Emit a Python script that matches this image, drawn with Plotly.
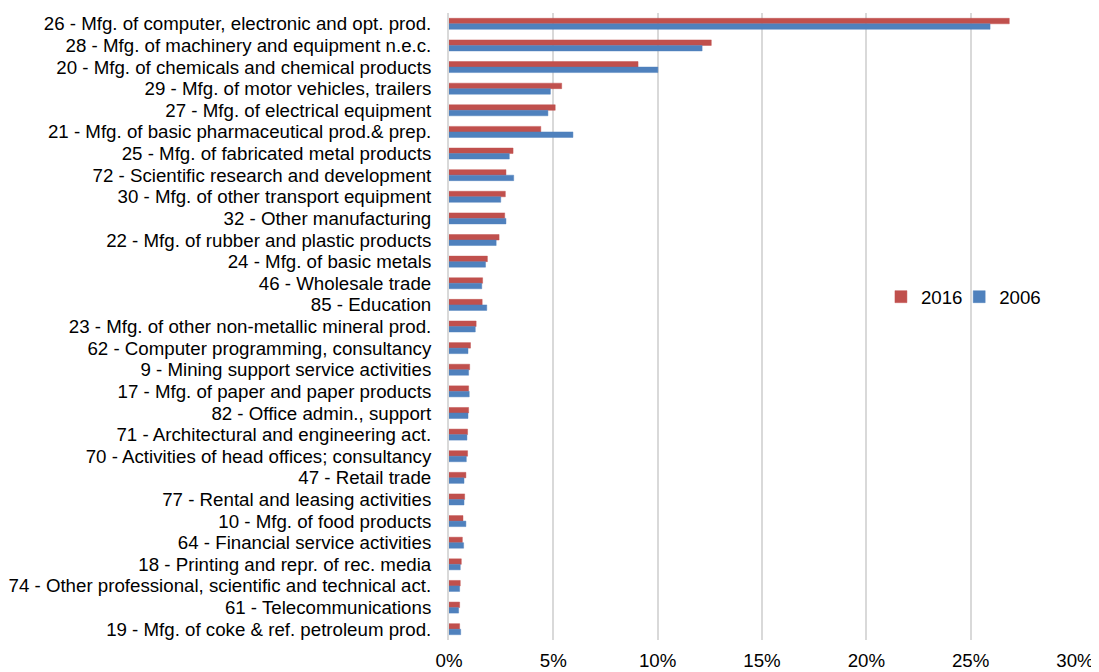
import plotly.graph_objects as go

categories = [
    "26 - Mfg. of computer, electronic and opt. prod.",
    "28 - Mfg. of machinery and equipment n.e.c.",
    "20 - Mfg. of chemicals and chemical products",
    "29 - Mfg. of motor vehicles, trailers",
    "27 - Mfg. of electrical equipment",
    "21 - Mfg. of basic pharmaceutical prod.& prep.",
    "25 - Mfg. of fabricated metal products",
    "72 - Scientific research and development",
    "30 - Mfg. of other transport equipment",
    "32 - Other manufacturing",
    "22 - Mfg. of rubber and plastic products",
    "24 - Mfg. of basic metals",
    "46 - Wholesale trade",
    "85 - Education",
    "23 - Mfg. of other non-metallic mineral prod.",
    "62 - Computer programming, consultancy",
    "9 - Mining support service activities",
    "17 - Mfg. of paper and paper products",
    "82 - Office admin., support",
    "71 - Architectural and engineering act.",
    "70 - Activities of head offices; consultancy",
    "47 - Retail trade",
    "77 - Rental and leasing activities",
    "10 - Mfg. of food products",
    "64 - Financial service activities",
    "18 - Printing and repr. of rec. media",
    "74 - Other professional, scientific and technical act.",
    "61 - Telecommunications",
    "19 - Mfg. of coke & ref. petroleum prod.",
]

values_2016 = [0.2685, 0.1257, 0.0906, 0.0540, 0.0509, 0.0440, 0.0307, 0.0273, 0.0270, 0.0267,
               0.0240, 0.0184, 0.0161, 0.0159, 0.0130, 0.0103, 0.0099, 0.0094, 0.0094, 0.0089,
               0.0089, 0.0081, 0.0075, 0.0067, 0.0064, 0.0059, 0.0054, 0.0051, 0.0051]
values_2006 = [0.2593, 0.1213, 0.1001, 0.0486, 0.0474, 0.0594, 0.0289, 0.0310, 0.0248, 0.0273,
               0.0226, 0.0175, 0.0157, 0.0181, 0.0126, 0.0091, 0.0094, 0.0097, 0.0091, 0.0086,
               0.0083, 0.0072, 0.0072, 0.0081, 0.0070, 0.0054, 0.0051, 0.0046, 0.0056]

x_ticks = [0, 0.05, 0.10, 0.15, 0.20, 0.25, 0.30]
x_tick_labels = ["0%", "5%", "10%", "15%", "20%", "25%", "30%"]

FONT = "Liberation Sans, Arial, sans-serif"

fig = go.Figure()
fig.add_trace(go.Bar(
    y=categories, x=values_2016, name="2016", orientation="h", legend="legend",
    marker=dict(color="#C0504D", line=dict(color="rgba(192,80,77,0.45)", width=1)),
))
fig.add_trace(go.Bar(
    y=categories, x=values_2006, name="2006", orientation="h", legend="legend2",
    marker=dict(color="#4F81BD", line=dict(color="rgba(79,129,189,0.45)", width=1)),
))

legend_style = dict(orientation="h", yanchor="middle", bgcolor="rgba(0,0,0,0)",
                    font=dict(family=FONT, size=18.7, color="#000000"), itemwidth=30)

fig.update_layout(
    width=1091, height=664,
    margin=dict(l=441, r=24, t=5, b=32, autoexpand=False),
    paper_bgcolor="white", plot_bgcolor="white",
    barmode="group", bargap=0.49, bargroupgap=0,
    font=dict(family=FONT, size=18.7, color="#000000"),
    showlegend=True,
    legend=dict(x=0.690, y=0.547, xanchor="left", **legend_style),
    legend2=dict(x=0.815, y=0.547, xanchor="left", **legend_style),
    xaxis=dict(range=[0, 0.30], tickmode="array", tickvals=x_ticks, ticktext=x_tick_labels,
               showgrid=True, gridcolor="#D9D9D9", gridwidth=2,
               zeroline=False, showline=False, ticks="", fixedrange=True,
               ticklabelstandoff=7),
    yaxis=dict(autorange="reversed", tickmode="array", tickvals=categories,
               ticktext=categories, showgrid=False, zeroline=False,
               showline=True, linecolor="#D9D9D9", linewidth=2,
               ticks="", ticklabelstandoff=12),
)

fig.write_html("out.html")
